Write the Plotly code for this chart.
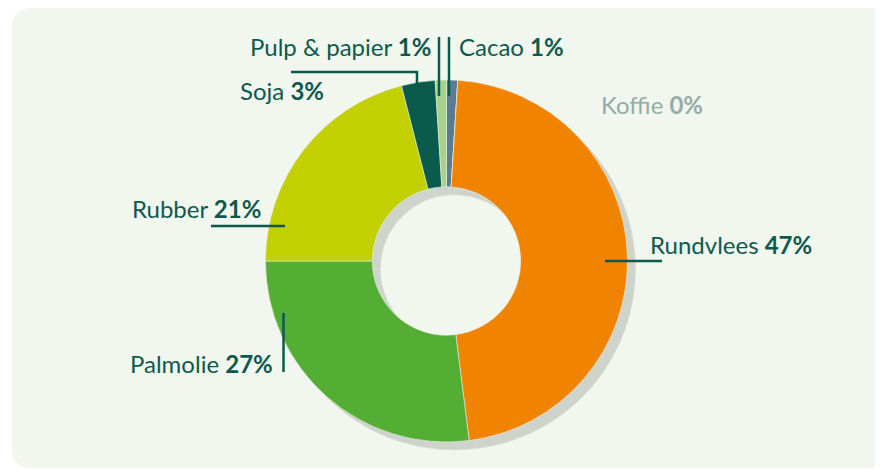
import plotly.graph_objects as go

# data
labels = ["Cacao", "Koffie", "Rundvlees", "Palmolie", "Rubber", "Soja", "Pulp & papier"]
values = [1, 0, 47, 27, 21, 3, 1]
colors = ["#5a7b92", "#8a6a4a", "#f08300", "#54ae33", "#c3d000", "#0b5b4d", "#a8d28c"]

# page has an 8px body margin, so the figure is a bit smaller than the window
OFF = 8
W, H = 875, 462
DARK = "#0d5a4c"
GREY_TXT = "#95aca6"
PANEL = "#f1f6ee"
SHADOW = "#ced4cc"


def px(x):
    return (x - OFF) / W


def py(y):
    return 1 - (y - OFF) / H


# donut geometry in window pixels (centre, outer radius, shadow offset)
cx, cy, R = 446.5, 261, 181
sh = 8


def dom(dx, dy):
    return dict(x=[px(cx - R + dx), px(cx + R + dx)],
                y=[py(cy + R + dy), py(cy - R + dy)])


fig = go.Figure()

# shadow ring
fig.add_trace(go.Pie(
    labels=labels, values=values, sort=False, direction="clockwise", rotation=0,
    hole=0.41, domain=dom(sh, sh), textinfo="none", hoverinfo="skip",
    marker=dict(colors=[SHADOW] * len(values), line=dict(color="#d8ddd5", width=0.6)),
))

fig.add_trace(go.Pie(
    labels=labels, values=values, sort=False, direction="clockwise", rotation=0,
    hole=0.41, domain=dom(0, 0), textinfo="none",
    marker=dict(colors=colors, line=dict(color="#e9efe5", width=0.6)),
))

# label placement (window pixels): text anchor x, text middle y, xanchor, leader polyline
label_layout = {
    "Rundvlees": (648, 244, "left", [(605, 261), (662, 261)]),
    "Palmolie": (275, 363, "right", [(283.5, 313), (283.5, 372)]),
    "Rubber": (130, 208, "left", [(211, 226), (285, 226)]),
    "Soja": (238, 91, "left", [(291, 72), (417, 72), (417, 96)]),
    "Pulp & papier": (433, 47, "right", [(439, 37), (439, 96)]),
    "Cacao": (457, 47, "left", [(449, 37), (449, 96)]),
    "Koffie": (599, 105, "left", None),
}

shapes = []
# panel with rounded corners
x0, y0, x1, y1, r = 12, 8, 881, 468, 20
path = (f"M{px(x0 + r)},{py(y0)} L{px(x1 - 6)},{py(y0)} "
        f"Q{px(x1)},{py(y0)} {px(x1)},{py(y0 + 6)} "
        f"L{px(x1)},{py(y1 - 6)} Q{px(x1)},{py(y1)} {px(x1 - 6)},{py(y1)} "
        f"L{px(x0 + r)},{py(y1)} Q{px(x0)},{py(y1)} {px(x0)},{py(y1 - r)} "
        f"L{px(x0)},{py(y0 + r)} Q{px(x0)},{py(y0)} {px(x0 + r)},{py(y0)} Z")
shapes.append(dict(type="path", xref="paper", yref="paper", path=path,
                   fillcolor=PANEL, line=dict(width=0), layer="below"))

annotations = []
for lab, val in zip(labels, values):
    tx, ty, anchor, pts = label_layout[lab]
    col = GREY_TXT if val == 0 else DARK
    annotations.append(dict(
        x=px(tx), y=py(ty), xref="paper", yref="paper", xanchor=anchor, yanchor="middle",
        text=f"{lab} <b>{val}%</b>", showarrow=False,
        font=dict(family="Lato", size=24, color=col),
    ))
    if pts:
        p = "M" + " L".join(f"{px(a)},{py(b)}" for a, b in pts)
        shapes.append(dict(type="path", xref="paper", yref="paper", path=p,
                           line=dict(color=DARK, width=2.5), layer="above"))

fig.update_layout(
    width=W, height=H,
    margin=dict(l=0, r=0, t=0, b=0),
    paper_bgcolor="white",
    showlegend=False,
    shapes=shapes,
    annotations=annotations,
)

fig.write_html("out.html")
